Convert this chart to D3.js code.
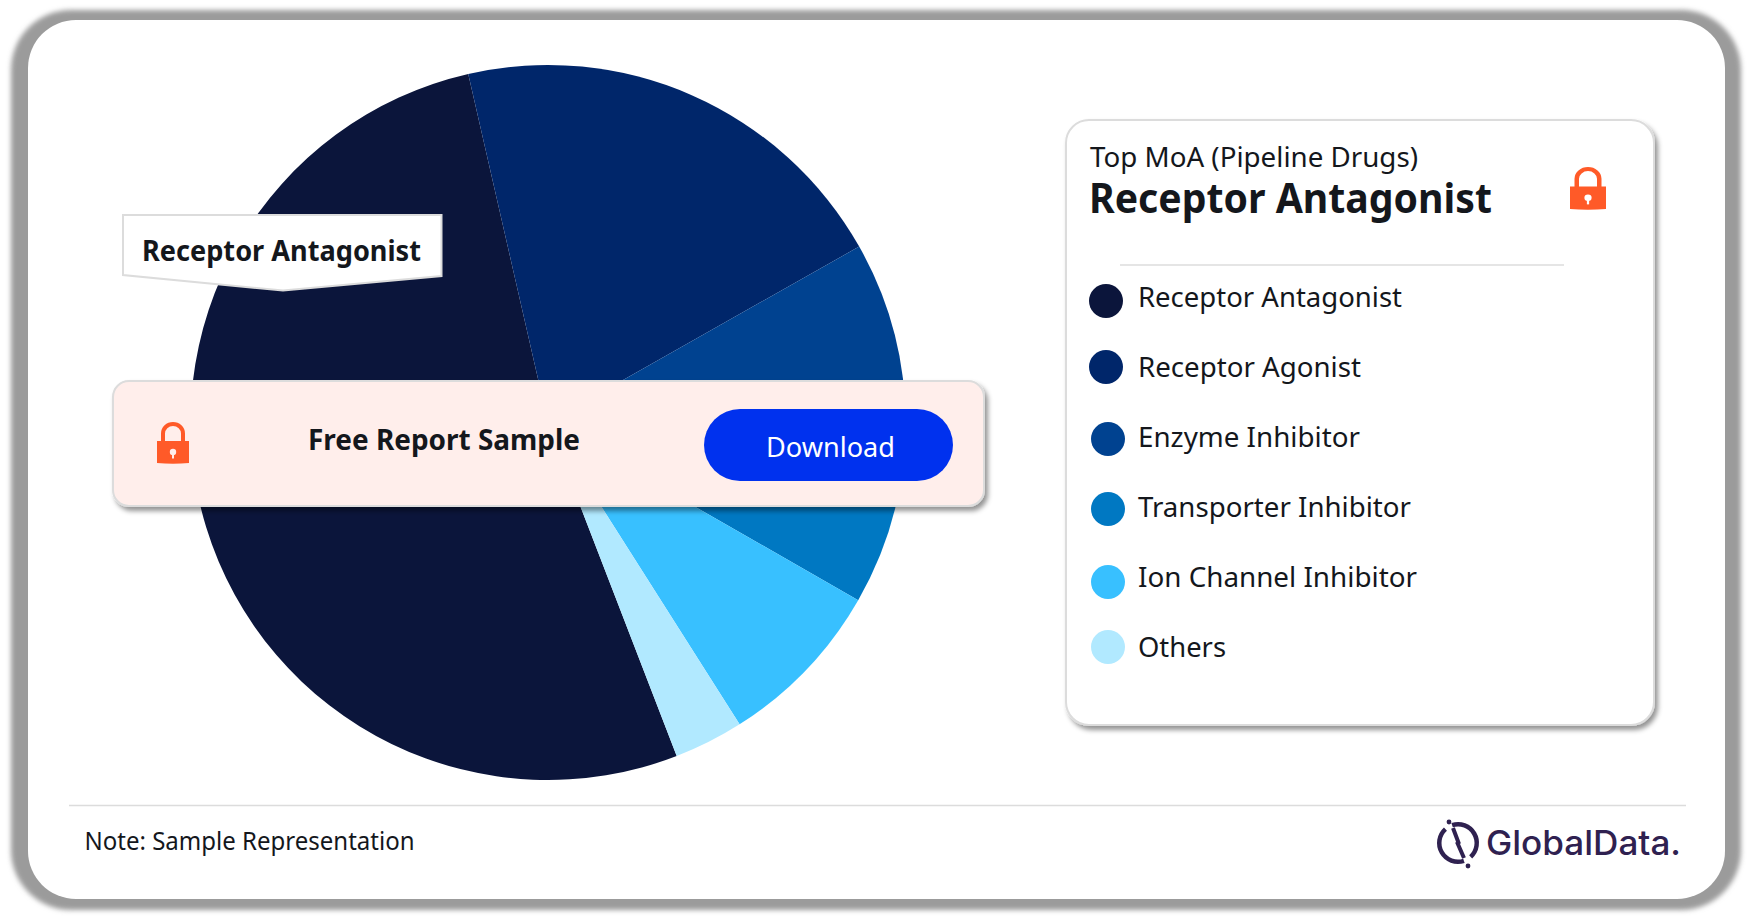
<!DOCTYPE html>
<html>
<head>
<meta charset="utf-8">
<script src="https://cdn.jsdelivr.net/npm/d3@7"></script>
<style>
  html, body { margin: 0; padding: 0; background: #fff; overflow: hidden; }
  svg { display: block; }
  text { font-family: "Noto Sans", Roboto, sans-serif; fill: #14171c; }
</style>
</head>
<body>
<svg id="chart" width="1753" height="919"></svg>
<script>
// Chart data, share of pipeline drugs per MoA
const categories = ["Receptor Antagonist", "Receptor Agonist", "Enzyme Inhibitor", "Transporter Inhibitor", "Ion Channel Inhibitor", "Others"];
const shares = [52.28, 20.39, 8.61, 7.86, 7.72, 3.14];
const colors = ["#0b153b", "#00266a", "#004290", "#0078c2", "#38c0ff", "#b1e9ff"];

const cardTitle = "Top MoA (Pipeline Drugs)";
const topCategory = "Receptor Antagonist";
const bannerText = "Free Report Sample";
const buttonText = "Download";
const noteText = "Note: Sample Representation";
const logoText = "GlobalData.";

// legend dots sit a little off the rows in the original
const dotNudgeY = [-6, -10, -8, -8, -5, -10];
const dotX = [1106, 1106, 1108, 1108, 1108, 1108];

const svg = d3.select("#chart");
const defs = svg.append("defs");

// soft shadows
defs.append("filter").attr("id", "frameBlur")
  .append("feGaussianBlur").attr("stdDeviation", 2.5);

const boxShadow = defs.append("filter").attr("id", "boxShadow")
  .attr("x", "-5%").attr("y", "-5%").attr("width", "112%").attr("height", "115%");
boxShadow.append("feDropShadow")
  .attr("dx", 3).attr("dy", 4).attr("stdDeviation", 2.5)
  .attr("flood-color", "#000").attr("flood-opacity", 0.42);

// text helper, textLength pulls the substitute font to the measured width
function label(x, y, str, size, weight, width, fill) {
  const t = svg.append("text")
    .attr("x", x).attr("y", y)
    .attr("font-size", size)
    .attr("font-weight", weight)
    .text(str);
  if (width) t.attr("textLength", width).attr("lengthAdjust", "spacingAndGlyphs");
  if (fill) t.style("fill", fill);
  return t;
}

// orange padlock, x/y is the top left corner
function lock(x, y, w, h, hole) {
  const g = svg.append("g").attr("transform", "translate(" + x + "," + y + ") scale(" + w / 32 + "," + h / 42 + ")");
  g.append("path")
    .attr("d", "M6 20V11.5a10 9.5 0 0 1 20 0V20")
    .attr("fill", "none").attr("stroke", "#ff5a28").attr("stroke-width", 4);
  g.append("path")
    .attr("d", "M0 19H32V41Q16 42.5 0 41Z")
    .attr("fill", "#ff5a28");
  g.append("circle").attr("cx", 16).attr("cy", 30).attr("r", 3.2).attr("fill", hole);
  g.append("rect").attr("x", 15).attr("y", 30).attr("width", 2).attr("height", 6.5).attr("fill", hole);
}

// outer frame
svg.append("rect")
  .attr("x", 11).attr("y", 10).attr("width", 1730).attr("height", 900).attr("rx", 60)
  .attr("fill", "#9b9b9b").attr("filter", "url(#frameBlur)");
svg.append("rect")
  .attr("x", 28).attr("y", 20).attr("width", 1697).attr("height", 879).attr("rx", 48)
  .attr("fill", "#fff");

// pie
const pie = d3.pie()
  .sort(null)
  .startAngle(158.9 * Math.PI / 180)
  .endAngle((158.9 + 360) * Math.PI / 180);

const arc = d3.arc().innerRadius(0).outerRadius(357.5);

const colorScale = d3.scaleOrdinal().domain(categories).range(colors);

svg.append("g")
  .attr("transform", "translate(548,422.5)")
  .selectAll("path")
  .data(pie(shares))
  .enter()
  .append("path")
  .attr("d", arc)
  .attr("fill", function(d, i) { return colorScale(categories[i]); });

// callout on the biggest slice
svg.append("path")
  .attr("d", "M123 215H441.5V276L283 290.5L123 275Z")
  .attr("fill", "#fff").attr("stroke", "#dcdcdc").attr("stroke-width", 2);
label(142, 261, topCategory, 28, 700, 279);

// banner over the pie
svg.append("rect")
  .attr("x", 113).attr("y", 381).attr("width", 871).attr("height", 125).attr("rx", 16)
  .attr("fill", "#ffeeeb").attr("stroke", "#dcdcdc").attr("stroke-width", 2)
  .attr("filter", "url(#boxShadow)");
lock(157, 422, 32, 42, "#ffeeeb");
label(308, 450, bannerText, 28, 700, 272);
svg.append("rect")
  .attr("x", 704).attr("y", 409).attr("width", 249).attr("height", 72).attr("rx", 36)
  .attr("fill", "#0031ee");
label(766, 457, buttonText, 28, 400, 129, "#fff");

// legend card
svg.append("rect")
  .attr("x", 1066).attr("y", 120).attr("width", 588).attr("height", 605).attr("rx", 23)
  .attr("fill", "#fff").attr("stroke", "#dcdcdc").attr("stroke-width", 2)
  .attr("filter", "url(#boxShadow)");
label(1090, 167, cardTitle, 28, 400, 328);
label(1089, 213, topCategory, 41, 700, 403);
lock(1570, 167, 36, 43, "#fff");
svg.append("line")
  .attr("x1", 1120).attr("x2", 1564).attr("y1", 265).attr("y2", 265)
  .attr("stroke", "#dcdcdc").attr("stroke-width", 1.5);

// legend rows
const rowY = d3.scalePoint().domain(categories).range([307, 657]);
const legendWidths = [264, 223, 222, 273, 279, 88];

const rows = svg.append("g").selectAll("g")
  .data(categories)
  .enter()
  .append("g");

rows.append("circle")
  .attr("cx", function(d, i) { return dotX[i]; })
  .attr("cy", function(d, i) { return rowY(d) + dotNudgeY[i]; })
  .attr("r", 17)
  .attr("fill", function(d) { return colorScale(d); });

rows.append("text")
  .attr("x", 1138)
  .attr("y", function(d) { return rowY(d); })
  .attr("font-size", 28)
  .attr("textLength", function(d, i) { return legendWidths[i]; })
  .attr("lengthAdjust", "spacingAndGlyphs")
  .text(function(d) { return d; });

// footer
svg.append("line")
  .attr("x1", 69).attr("x2", 1686).attr("y1", 805.5).attr("y2", 805.5)
  .attr("stroke", "#dcdcdc").attr("stroke-width", 1.5);
label(84.5, 849.5, noteText, 25, 400, 330);

// logo
const logo = svg.append("g").attr("transform", "translate(1458,843)");
const logoArc = d3.arc().innerRadius(16.5).outerRadius(21);
[[-0.32, 2.4], [2.82, 5.55]].forEach(function(a) {
  logo.append("path")
    .attr("d", logoArc({ startAngle: a[0], endAngle: a[1] }))
    .attr("fill", "#2f2150");
});
logo.append("path")
  .attr("d", "M-5 -15L1 1L-1 -1L6 15")
  .attr("fill", "none").attr("stroke", "#2f2150").attr("stroke-width", 4);
logo.append("circle").attr("cx", -9).attr("cy", -21).attr("r", 2.4).attr("fill", "#2f2150");
logo.append("circle").attr("cx", 10).attr("cy", 23).attr("r", 2.4).attr("fill", "#2f2150");
label(1486, 855, logoText, 34, 500, 195, "#2f2150").style("font-family", "Inter, sans-serif");
</script>
</body>
</html>
